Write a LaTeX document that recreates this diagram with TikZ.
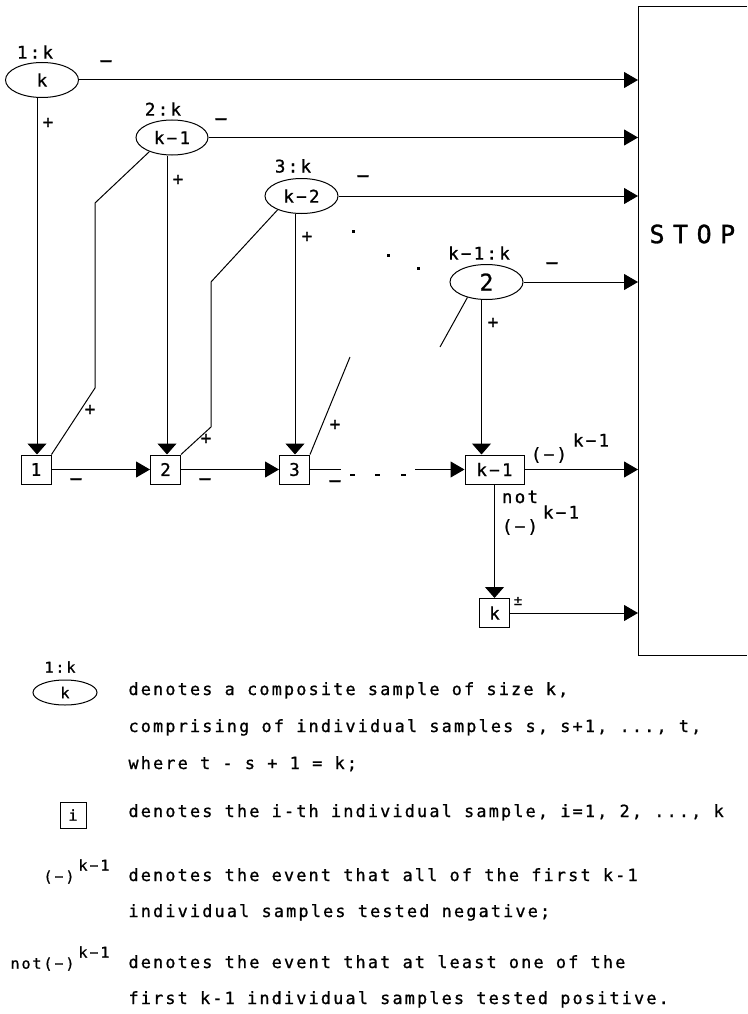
\documentclass[tikz,border=0pt]{standalone}
\usepackage{fontspec}
\usetikzlibrary{arrows.meta,shapes.geometric}
\newfontfamily\dmfont[LetterSpace=13,FakeBold=1]{DejaVu Sans Mono}
\newfontfamily\dmstop[LetterSpace=34,FakeBold=1.2]{DejaVu Sans Mono}
\newcommand\dmsize[1]{\dmfont\fontsize{#1}{#1}\selectfont}
\begin{document}
\begin{tikzpicture}[x=1pt,y=-1pt, line width=1pt,
  ell/.style={ellipse, draw, inner sep=0pt, minimum width=73pt, minimum height=35pt, font=\dmsize{17.5}},
  sbox/.style={rectangle, draw, inner sep=0pt, minimum width=30pt, minimum height=29pt, font=\dmsize{17.5}},
  lab/.style={inner sep=0pt, font=\dmsize{17.5}},
  mlab/.style={inner sep=0pt, font=\dmsize{21}},
  sym/.style={inner sep=0pt, font=\dmsize{15}},
  lgd/.style={inner sep=0pt, anchor=base west, font=\dmsize{16.8}},
  harr/.style={-{Triangle[length=14pt,width=16pt]}},
  varr/.style={-{Triangle[length=11pt,width=19pt]}},
  dotm/.style={fill, inner sep=0pt, minimum size=3pt, rectangle}
]
\useasboundingbox (0,0) rectangle (747,1014);

% STOP box
\coordinate (stopedge) at (638,0);
\draw (747,7) -- (638,7) -- (638,655) -- (747,655);
\node[inner sep=0pt, anchor=west, font={\dmstop\fontsize{25}{25}\selectfont}] (stop) at (649,234) {STOP};

% composite samples
\node[ell] (E1) at (42,80) {k};
\node[ell, minimum width=72pt] (E2) at (172,137.5) {k−1};
\node[ell] (E3) at (301.5,196) {k−2};
\node[ell, font=\dmsize{23}] (E4) at (486.5,282) {2};

\node[lab] (L1) at (35,52) {1:k};
\node[lab] (L2) at (163,109) {2:k};
\node[lab] (L3) at (293,166) {3:k};
\node[lab] (L4) at (479,253) {k−1:k};

\node[mlab] (m1) at (106,64) {−};
\node[mlab] (m2) at (221,122) {−};
\node[mlab] (m3) at (363,179) {−};
\node[mlab] (m4) at (552,266) {−};

\node[lab] (q1) at (48,123) {+};
\node[lab] (q2) at (178,180) {+};
\node[lab] (q3) at (307,237) {+};
\node[lab] (q4) at (493,323) {+};

% individual samples
\node[sbox] (B1) at (36,469.5) {1};
\node[sbox] (B2) at (165.5,469.5) {2};
\node[sbox] (B3) at (294.5,469.5) {3};
\node[sbox, minimum width=59pt] (Bk1) at (494.5,469.5) {k−1};
\node[sbox] (Bk) at (494.5,613) {k};

% arrows to STOP
\draw[harr] (E1.east) -- (E1.east -| stopedge);
\draw[harr] (E2.east) -- (E2.east -| stopedge);
\draw[harr] (E3.east) -- (E3.east -| stopedge);
\draw[harr] (E4.east) -- (E4.east -| stopedge);
\draw[harr] (Bk1.east) -- (Bk1.east -| stopedge);
\draw[harr] (Bk.east) -- (Bk.east -| stopedge);

% vertical + arrows
\coordinate (v1) at ([xshift=-5pt]E1.south);
\coordinate (v2) at ([xshift=-5pt]E2.south);
\coordinate (v3) at ([xshift=-6.5pt]E3.south);
\coordinate (v4) at ([xshift=-5pt]E4.south);
\draw[varr] (v1) -- (v1 |- B1.north);
\draw[varr] (v2) -- (v2 |- B2.north);
\draw[varr] (v3) -- (v3 |- B3.north);
\draw[varr] (v4) -- (v4 |- Bk1.north);
\draw[varr] (Bk1.south) -- (Bk.north);

% bottom row
\draw[harr] (B1.east) -- (B2.west);
\draw[harr] (B2.east) -- (B3.west);
\coordinate (r3) at (341,469.5);
\draw (B3.east) -- (r3);
\node[dotm, minimum width=5pt, minimum height=2.5pt] (d1) at (352,475) {};
\node[dotm, minimum width=5pt, minimum height=2.5pt] (d2) at (377,475) {};
\node[dotm, minimum width=5pt, minimum height=2.5pt] (d3) at (403,475) {};
\coordinate (r4) at (415,469.5);
\draw[harr] (r4) -- (Bk1.west);

\node[mlab] (n1) at (76,482) {−};
\node[mlab] (n2) at (205,482) {−};
\node[mlab] (n3) at (335,484) {−};

\node[lab] (c1) at (549,455) {(−)};
\node[lab] (c2) at (591,440) {k−1};
\node[lab] (c3) at (520,497) {not};
\node[lab] (c4) at (520,527) {(−)};
\node[lab] (c5) at (561,512) {k−1};
\node[inner sep=0pt, font=\dmsize{14}] (c6) at (518,601) {±};

% dots between composite samples
\node[dotm] (dt1) at (353,231) {};
\node[dotm] (dt2) at (388,255) {};
\node[dotm] (dt3) at (418,268) {};

% + paths
\coordinate (p1a) at (95,203);
\coordinate (p1b) at (95,388);
\draw (E2.212) -- (p1a) -- (p1b) -- (B1.north east);
\node[lab] (q5) at (90,410) {+};
\coordinate (p2a) at (211,282);
\coordinate (p2b) at (211,427);
\draw (E3.210) -- (p2a) -- (p2b) -- (B2.north east);
\node[lab] (q6) at (206,439) {+};
\coordinate (p3a) at (350,357);
\draw (p3a) -- (B3.north east);
\node[lab] (q7) at (335,425) {+};
\coordinate (p4a) at (440,347);
\draw (E4.219) -- (p4a);

% legend
\node[sym] (lgl) at (60,667) {1:k};
\node[ellipse, draw, inner sep=0pt, minimum width=64pt, minimum height=25pt, font=\dmsize{15}] (lgE) at (65,692.5) {k};
\node[lgd] (t1) at (128,695) {denotes a composite sample of size k,};
\node[lgd] (t2) at (128,732) {comprising of individual samples s, s+1, ..., t,};
\node[lgd] (t3) at (128,769) {where t - s + 1 = k;};
\node[sbox, minimum width=26pt, minimum height=26pt, font=\dmsize{15}] (lgB) at (73,815) {i};
\node[lgd] (t4) at (128,817) {denotes the i-th individual sample, i=1, 2, ..., k};
\node[sym, anchor=east] (s1) at (75,877) {(−)};
\node[sym, anchor=west] (s2) at (78,865) {k−1};
\node[lgd] (t5) at (128,881) {denotes the event that all of the first k-1};
\node[lgd] (t6) at (128,917) {individual samples tested negative;};
\node[sym, anchor=east] (s3) at (75,964) {not(−)};
\node[sym, anchor=west] (s4) at (78,952) {k−1};
\node[lgd] (t7) at (128,968) {denotes the event that at least one of the};
\node[lgd] (t8) at (128,1004) {first k-1 individual samples tested positive.};
\end{tikzpicture}
\end{document}
